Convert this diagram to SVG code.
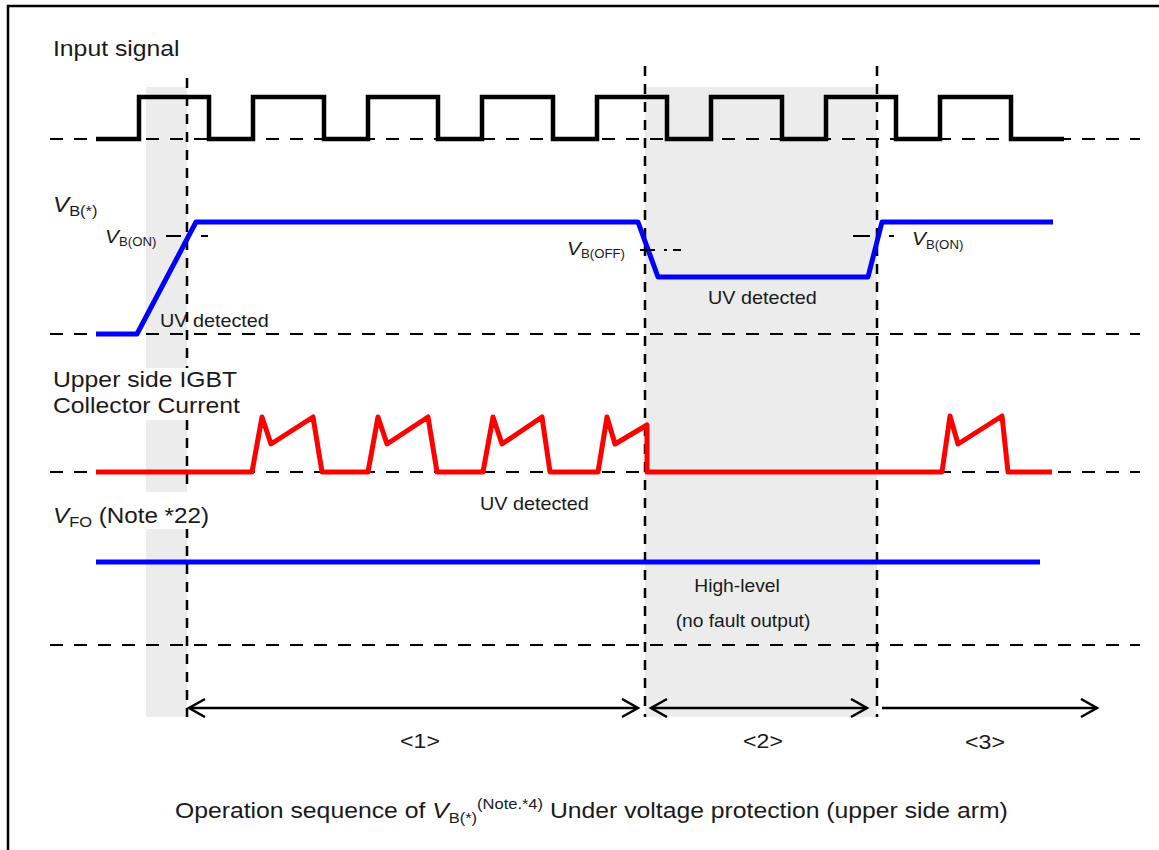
<svg xmlns="http://www.w3.org/2000/svg" width="1159" height="850" viewBox="0 0 1159 850">
<style>
.shade{fill:#ececec}
.hd{fill:none;stroke:#000;stroke-width:2;stroke-dasharray:13 11}
.vd{fill:none;stroke:#000;stroke-width:2.5;stroke-dasharray:10 8}
.sig{fill:none;stroke:#000;stroke-width:4.5;stroke-linejoin:miter}
.blue{fill:none;stroke:#0000ff;stroke-width:5;stroke-linejoin:round}
.red{fill:none;stroke:#ff0000;stroke-width:5;stroke-linejoin:round}
.tick{fill:none;stroke:#000;stroke-width:2}
.arr{fill:none;stroke:#000;stroke-width:2.5}
text{font-family:"Liberation Sans",Arial,sans-serif;fill:#1a1a1a}
.ttl{font-size:22.5px}
.lbl{font-size:18px}
.it{font-style:italic}
</style>
<defs>
<marker id="ah" markerUnits="userSpaceOnUse" markerWidth="20" markerHeight="22" refX="17" refY="10" orient="auto-start-reverse">
<path d="M1,1 L17,10 L1,19" fill="none" stroke="#000" stroke-width="2.5"/>
</marker>
</defs>
<rect x="8" y="6" width="1170" height="870" fill="#fff" stroke="#000" stroke-width="2.5"/>
<g id="shading">
<rect class="shade" x="146" y="87" width="41" height="630"/>
<rect class="shade" x="645" y="87" width="232" height="630"/>
</g>
<g id="guides">
<line class="hd" x1="50" y1="139" x2="1140" y2="139"/>
<line class="hd" x1="50" y1="334" x2="1140" y2="334"/>
<line class="hd" x1="50" y1="472" x2="1140" y2="472"/>
<line class="hd" x1="50" y1="645" x2="1140" y2="645"/>
<line class="vd" x1="187" y1="78" x2="187" y2="717"/>
<line class="vd" x1="645" y1="66" x2="645" y2="717"/>
<line class="vd" x1="877" y1="66" x2="877" y2="717"/>
</g>
<g id="label-masks" fill="#fff">
<rect x="50" y="33" width="134" height="30"/>
<rect x="50" y="368" width="196" height="52"/>
<rect x="50" y="492" width="166" height="37"/>
</g>
<g id="input-signal">
<polyline class="sig" points="96,139 139,139 139,97 209,97 209,139 253,139 253,97 324,97 324,139 368,139 368,97 438,97 438,139 482,139 482,97 553,97 553,139 597,139 597,97 667,97 667,139 711,139 711,97 782,97 782,139 826,139 826,97 896,97 896,139 940,139 940,97 1011,97 1011,139 1064,139"/>
</g>
<g id="vb-signal">
<polyline class="blue" points="96,334 137,334 196,222 638,222 658,277 868,277 882,222 1053,222"/>
<line class="tick" x1="166" y1="236" x2="181" y2="236"/>
<line class="tick" x1="201" y1="236" x2="208" y2="236"/>
<line class="tick" x1="640" y1="250" x2="655" y2="250"/>
<line class="tick" x1="664" y1="250" x2="667" y2="250"/>
<line class="tick" x1="673" y1="250" x2="681" y2="250"/>
<line class="tick" x1="853" y1="236" x2="870" y2="236"/>
<line class="tick" x1="889" y1="236" x2="894" y2="236"/>
</g>
<g id="collector-current">
<polyline class="red" points="96,472 252,472 262,417 271,444 313,417 322,472 368,472 378,417 387,444 428,417 437,472 483,472 493,417 502,444 542,417 550,472 598,472 607,417 615,444 647,425 647,472 942,472 950,416 958,444 1002,416 1008,472 1052,472"/>
</g>
<g id="vfo-signal">
<line class="blue" x1="96" y1="562" x2="1040" y2="562"/>
</g>
<g id="connectors">
<line class="arr" x1="189" y1="708" x2="638" y2="708" marker-start="url(#ah)" marker-end="url(#ah)"/>
<line class="arr" x1="651" y1="708" x2="867" y2="708" marker-start="url(#ah)" marker-end="url(#ah)"/>
<line class="arr" x1="882" y1="708" x2="1097" y2="708" marker-end="url(#ah)"/>
</g>
<g id="labels" transform="scale(1.1,1)">
<text class="ttl" x="48.18" y="56">Input signal</text>
<text x="48.18" y="212" font-size="22"><tspan class="it">V</tspan><tspan font-size="15" dy="4">B(*)</tspan></text>
<text x="95.45" y="243" font-size="19"><tspan class="it">V</tspan><tspan font-size="12" dy="3">B(ON)</tspan></text>
<text x="515.45" y="255" font-size="19"><tspan class="it">V</tspan><tspan font-size="12" dy="3">B(OFF)</tspan></text>
<text x="829.09" y="245" font-size="19"><tspan class="it">V</tspan><tspan font-size="12" dy="4">B(ON)</tspan></text>
<text class="lbl" x="145.45" y="327">UV detected</text>
<text class="lbl" x="643.64" y="304">UV detected</text>
<text class="ttl" x="48.18" y="387">Upper side IGBT</text>
<text class="ttl" x="48.18" y="413">Collector Current</text>
<text class="lbl" x="436.36" y="510">UV detected</text>
<text x="48.18" y="523" font-size="22"><tspan class="it">V</tspan><tspan font-size="15" dy="4">FO</tspan><tspan dy="-4"> (Note *22)</tspan></text>
<text x="670" y="592" font-size="17.5" text-anchor="middle">High-level</text>
<text x="675.45" y="627" font-size="17.5" text-anchor="middle">(no fault output)</text>
<text x="381.82" y="748" font-size="21" text-anchor="middle">&lt;1&gt;</text>
<text x="693.64" y="748" font-size="21" text-anchor="middle">&lt;2&gt;</text>
<text x="895.45" y="749" font-size="21" text-anchor="middle">&lt;3&gt;</text>
<text x="159.09" y="818" font-size="22.5">Operation sequence of <tspan class="it">V</tspan><tspan font-size="15" dy="5">B(*)</tspan><tspan font-size="15" dy="-14">(Note.*4)</tspan><tspan dy="9"> Under voltage protection (upper side arm)</tspan></text>
</g>
</svg>
